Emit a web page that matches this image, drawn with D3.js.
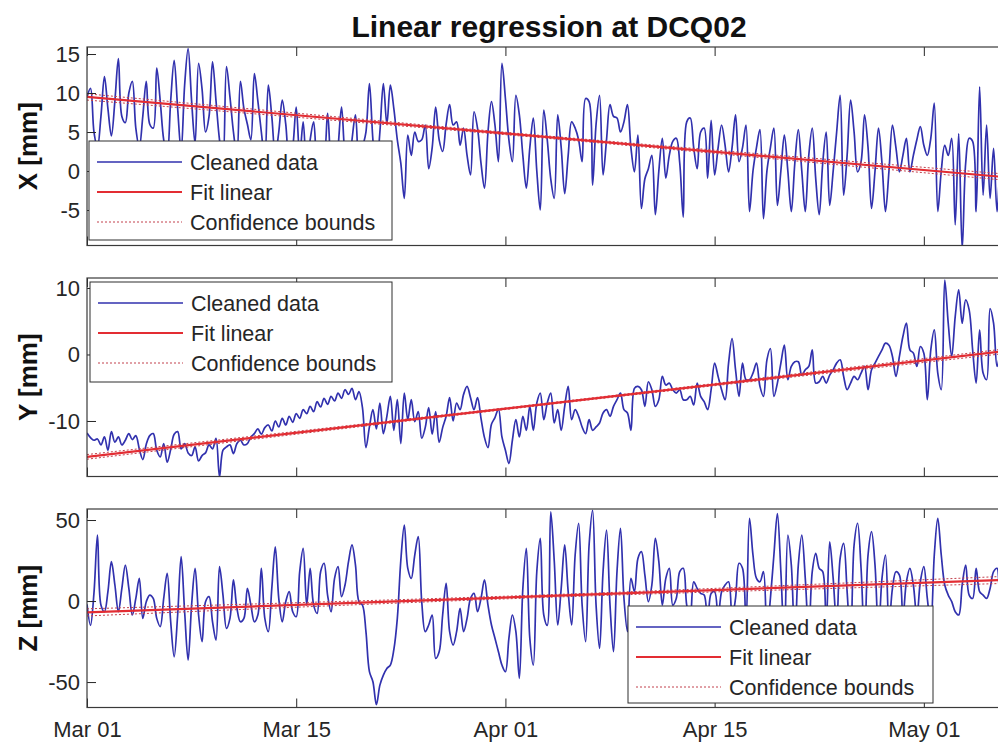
<!DOCTYPE html>
<html>
<head>
<meta charset="utf-8">
<script src="https://cdn.jsdelivr.net/npm/d3@7"></script>
<style>
  html, body { margin: 0; padding: 0; background: #fff; }
  svg { display: block; font-family: "Liberation Sans", Arial, Helvetica, sans-serif; }
</style>
</head>
<body>
<svg id="chart" width="998" height="742"></svg>
<script>
// Station DCQ02 displacement, one sample every 6 hours (time in days from Mar 01)
const sampleStep = 0.25;

// Date ticks of the shared time axis
const tickDays = [0, 15, 30, 45, 60];
const tickLabels = ["Mar 01", "Mar 15", "Apr 01", "Apr 15", "May 01"];

// Value ticks of each component
const ticksX = [-5, 0, 5, 10, 15];
const ticksY = [-10, 0, 10];
const ticksZ = [-50, 0, 50];

const legendLabels = ["Cleaned data", "Fit linear", "Confidence bounds"];

// Cleaned displacement series [mm]
const seriesX = [
  9.5, 10.6, 5, 3,   7, 12.1, 8, 4.5,   9, 14.4, 7, 6.2,   10, 11.5, 5.5, 3,
  7, 11.5, 6, 5.5,   13.2, 9, 4, 2,   9, 14.2, 8, 2.5,   11, 15.7, 9, 3.5,
  13.8, 10.5, 5, 7,   14.0, 9, 4, 1,   13.4, 9.5, 5, 2,   11.5, 8, 6, 4,
  12.5, 9, 5, 1.5,   11.0, 7, 2, 5,   9.1, 6, 1, 3,   8.2, 2, 6.3, 0,
  4, 6.3, 1, 3,   2, 7.4, 1, -1,   3, 8.2, 2, 0,   4, 7.2, 1, 3,
  5, 11.2, 4, 0,   5, 11.2, 6, 11,   8, 4, 1, -3.5,   4.6, 2, 5, 3.8,
  4, 5.9, 0.3, 3,   8.2, 4, 2.5, 6,   8.5, 5.9, 6.3, 3.3,   5.5, 2, -0.5, 7.6,
  5.5, 1, -2.2, 5,   8.9, 5.9, 1.2, 13.8,   9.3, 4, 1.2, 9.7,   7.2, 2, -2.2, 3,
  6.8, 0, -5, 7.8,   4, -1, -3.5, 7.2,   3, -2.9, 2, 6.3,   5.5, 4, 1.2, 9.3,
  8.9, -1.8, 6, 9.7,   -0.5, 4, 8.5, 7,   6.8, 5, 6.3, 8.5,   3, -0.1, 4.6, -4.8,
  -1, 0.3, 2, -5.6,   0, 4.2, -0.9, 2,   3.8, 4.2, 1, -5.9,   6.3, 6.8, 3, 0.3,
  5, 5.5, -0.9, 6.5,   -0.5, 3, 5.9, 3.3,   -0.1, 3, 7.2, 1.2,   3, 5.9, -5.2, 0,
  3, 5.3, -6.1, 0,   3, 5.5, -4.4, 0,   4.6, 0, -5.2, 1,   5.3, 0, -5.2, 2,
  5.5, -1, -5.6, 1,   5.0, -4.4, 0, 5,   9.7, -3.1, 2, 9.1,   5, -0.1, 1.2, 7.2,
  3, -4.8, 0, 5.5,   1, -5.2, 0, 5.9,   3, -0.1, 2, 4.2,   -0.1, 2, 4, 5.7,
  3.3, 2, 4.2, 8.7,   -5.2, 0, 3.3, 2,   4.2, -6.9, 4.8, -10,   1, 4.2, 3.8, -5.2,
  10.8, -3.1, 5.9, -3.5,   2.9, -5.2, 1, 3,   2, 0, -2, 1
];

const seriesY = [
  -11.8, -12.5, -12.9, -12.7,   -13.6, -12.4, -14.4, -11.6,   -13.2, -12.4, -13.6, -12.9,
  -11.9, -12.8, -12.2, -14.2,   -15.8, -13.5, -12.2, -11.9,   -14.4, -15.4, -13.4, -16.2,
  -14.3, -12.0, -11.6, -14.2,   -13.4, -14.8, -15.2, -13.9,   -16.0, -15.2, -14.8, -13.6,
  -14.2, -12.6, -18.4, -14.4,   -13.9, -13.6, -14.9, -13.4,   -12.9, -13.6, -13.4, -12.4,
  -11.9, -11.2, -12.0, -11.0,   -10.6, -11.5, -10.0, -10.9,   -9.6, -10.6, -9.3, -10.2,
  -8.9, -9.6, -8.3, -8.9,   -7.8, -8.6, -7.1, -7.9,   -6.6, -7.5, -6.3, -7.0,
  -5.8, -6.6, -5.3, -6.0,   -5.1, -6.8, -5.6, -8.0,   -14.0, -10.9, -8.3, -11.2,
  -7.3, -11.9, -9.3, -6.3,   -11.4, -6.8, -13.4, -5.8,   -9.8, -6.8, -10.1, -8.6,
  -12.6, -11.0, -8.0, -12.0,   -8.6, -13.2, -11.0, -9.3,   -6.5, -10.0, -7.3, -8.3,
  -6.0, -4.8, -6.5, -8.3,   -6.5, -9.6, -12.5, -14.0,   -10.5, -9.5, -8.2, -12.4,
  -14.4, -16.4, -12.9, -9.8,   -12.4, -9.3, -11.4, -7.8,   -11.4, -7.3, -5.8, -9.8,
  -7.3, -5.8, -10.3, -8.3,   -11.4, -7.8, -4.8, -9.8,   -8.3, -9.3, -10.9, -11.9,
  -9.8, -11.4, -10.9, -10.3,   -8.8, -8.3, -9.3, -7.8,   -6.8, -5.8, -8.3, -8.8,
  -11.4, -5.1, -4.8, -5.3,   -7.8, -4.1, -5.3, -7.8,   -6.8, -3.3, -4.6, -4.3,
  -5.3, -5.8, -5.3, -6.8,   -6.8, -6.3, -7.6, -4.3,   -6.3, -7.1, -8.3, -5.3,
  -1.3, -3.3, -5.3, -6.8,   -1.3, 2.4, -2.3, -6.3,   -1.3, -3.8, -3.8, -2.8,
  -1.3, -4.8, -6.3, -0.8,   0.9, -6.3, -4.3, -1.3,   1.4, -3.8, -1.8, -1.1,
  -1.1, -3.1, -2.3, -1.8,   0.7, -4.3, -4.1, -3.3,   -4.3, -3.1, -2.3, -1.3,
  -0.8, -3.3, -5.3, -4.3,   -3.3, -3.8, -2.8, -1.8,   -5.3, -2.3, -1.3, -0.3,
  0.7, 1.7, 1.4, -0.3,   -3.3, -0.3, 2.7, 4.7,   0.7, 0.2, -1.8, 1.2,
  0.2, -6.8, 0.7, 3.7,   -2.8, -5.3, 11.2, 4.7,   -0.3, 5.7, 9.7, 4.7,
  8.2, 6.7, 0.7, -4.3,   3.7, -2.8, -3.8, 6.9,   4.7, -1.8, 0.5, 2,
  3, 1, 2, 1
];

const seriesZ = [
  -2, -15, 5, 40.7,   -2.5, -6.6, 5.8, 24.3,   9.9, -6.6, 7.8, 22.2,   7.8, -8.6, 1.6, 14,
  -10.7, -0.4, 3.7, 1.6,   -10.7, -15.8, 1.6, 17.1,   -12.8, -34.4, -8.6, 27.4,   -6.6, -36.4, -2.5, 20.2,
  -8.6, -25.1, -0.4, 2.7,   -12.8, -24.1, 21.2, 3.7,   -16.9, -10.7, 13, -4.5,   -12.8, -10.7, 7.8, -2.5,
  -12.8, -8.6, 20.2, -10.7,   -18.9, 7.8, 33.5, 1.6,   -12.8, -0.4, 5.8, -6.6,   -9.7, 18.1, 32.5, -2.5,
  20.2, -2.5, -7.6, 18.1,   23.3, 3.7, -6.6, 14,   21.2, 2.7, 9.9, 24.3,   34.6, 22.2, -0.4, -2.5,
  -18.9, -43.6, -49.8, -64,   -51.9, -45.7, -41.6, -39.5,   -30, -10.7, 25, 46.9,   20.2, 14, 28.4, 39.7,
  -0.4, -18.9, -14.8, -8.6,   -35.4, -31.3, -8.6, 10.9,   -18.9, -27.2, -18.9, -4.5,   -18.9, -10.7, 1.6, 4.7,
  -6.6, 1.6, 13, -2.5,   -14.8, -23, -31.3, -39.5,   -43.6, -23, -8.6, -18.9,   -47.7, 7.8, 32.5, -23,
  -39.5, 18.1, 38.7, -8.6,   -15, 55, 25, -14.8,   7.8, 34.6, 5.8, -14.8,   28.4, 48, -2.5, -25.1,
  34.6, 56, -2.5, -29.2,   18.1, 43.8, -2.5, -31.3,   18.1, 44.9, 1.6, -18.9,   14, 5.8, 26.3, 30.5,
  16, -0.4, 9.9, 38.7,   24.3, -2.5, 14, 20.2,   -2.5, 1.6, 18.1, 20.2,   -2.5, -10, 11.9, 7.8,
  4.7, 3.7, -15, 4.7,   5.8, -10, 5.8, 9.9,   11.9, -10, 1.6, 23.3,   20.2, -15, 51, 28.4,
  14, 11.9, 18.1, -20,   1.6, 28.4, 54, 18.1,   -25, 40.7, 22.2, -25,   22.2, 40.7, 14, -20,
  18.1, 29.4, 20.2, 18.1,   -15, 36.6, 14, -15,   26.3, 35.6, 5.8, -25,   34.6, 48, 20.2, -25,
  28.4, 42.8, 22.2, -20,   14, 28.4, -15, 7.8,   18.1, 16, -10, 11.9,   20.2, 9.9, -10, 11.9,
  21.2, 1.6, -15, 28.4,   51, 28.4, 9.9, 3.7,   -0.4, -6.6, -8.6, 9.9,   22.2, 3.7, 1.6, 20.2,
  5.8, 3.7, 1.6, 7.8,   18.1, 20.2, 3.7, 5,   8, 3, 5, 4
];

// Linear fits: value at the first and last day of the axis [mm]
const fitDays = [0, 66.25];
const fitX = [9.5, -0.85];
const fitY = [-15.4, 0.6];
const fitZ = [-7, 13.2];

// Half-width of the 95% confidence bounds around each fit [mm]
const boundDays = [0, 16.5, 33, 49.5, 66.25];
const boundX = [0.4, 0.25, 0.15, 0.25, 0.4];
const boundY = [0.35, 0.2, 0.12, 0.2, 0.35];
const boundZ = [2.2, 1.3, 0.8, 1.3, 2.2];

// ---------------------------------------------------------------------------
const svg = d3.select("#chart");
const textColor = "#262626";
const dataColor = "#3131ae";
const fitColor = "#e32d33";
const boundColor = "#c2404c";

const plotLeft = 87, plotRight = 1011;
const x = d3.scaleLinear().domain([0, 66.25]).range([plotLeft, plotRight]);

const panels = [
  { id: "x", label: "X [mm]", top: 47, bottom: 245.5, domain: [-9.55, 15.9], ticks: ticksX,
    values: seriesX, fit: fitX, bound: boundX, legend: { x: 89, y: 141, w: 303, h: 99 } },
  { id: "y", label: "Y [mm]", top: 278, bottom: 476.5, domain: [-18.35, 11.5], ticks: ticksY,
    values: seriesY, fit: fitY, bound: boundY, legend: { x: 90, y: 282, w: 302, h: 100 } },
  { id: "z", label: "Z [mm]", top: 509, bottom: 707.5, domain: [-65.7, 56.8], ticks: ticksZ,
    values: seriesZ, fit: fitZ, bound: boundZ, legend: { x: 628, y: 606, w: 305, h: 97 } }
];

svg.append("text")
  .attr("x", (plotLeft + plotRight) / 2)
  .attr("y", 36.5)
  .attr("text-anchor", "middle")
  .attr("font-size", 30)
  .attr("font-weight", "bold")
  .attr("fill", "#111")
  .text("Linear regression at DCQ02");

panels.forEach((p, pi) => {
  const y = d3.scaleLinear().domain(p.domain).range([p.bottom, p.top]);
  const g = svg.append("g");

  const clipId = "clip-" + p.id;
  svg.append("clipPath").attr("id", clipId)
    .append("rect")
    .attr("x", plotLeft).attr("y", p.top)
    .attr("width", plotRight - plotLeft).attr("height", p.bottom - p.top);

  // background of the axes
  g.append("rect")
    .attr("x", plotLeft).attr("y", p.top)
    .attr("width", plotRight - plotLeft).attr("height", p.bottom - p.top)
    .attr("fill", "#fff");

  const plot = g.append("g").attr("clip-path", `url(#${clipId})`);

  // cleaned data, drawn as a smooth trace through the samples
  const dataLine = d3.line()
    .curve(d3.curveCatmullRom.alpha(0.5))
    .x((d, i) => x(i * sampleStep))
    .y(d => y(d));
  plot.append("path")
    .datum(p.values)
    .attr("d", dataLine)
    .attr("fill", "none")
    .attr("stroke", dataColor)
    .attr("stroke-width", 1.7)
    .attr("stroke-linejoin", "round");

  // fit line and confidence bounds
  const fitAt = d3.scaleLinear().domain(fitDays).range(p.fit);
  const boundLine = d3.line().curve(d3.curveNatural)
    .x(d => x(d[0])).y(d => y(d[1]));
  [1, -1].forEach(sign => {
    plot.append("path")
      .datum(boundDays.map((t, i) => [t, fitAt(t) + sign * p.bound[i]]))
      .attr("d", boundLine)
      .attr("fill", "none")
      .attr("stroke", boundColor)
      .attr("stroke-width", 1)
      .attr("stroke-dasharray", "2,2");
  });
  plot.append("path")
    .datum(fitDays.map((t, i) => [t, p.fit[i]]))
    .attr("d", d3.line().x(d => x(d[0])).y(d => y(d[1])))
    .attr("fill", "none")
    .attr("stroke", fitColor)
    .attr("stroke-width", 2.2);

  // axes: inward ticks on every side of the box
  const yAxis = g.append("g")
    .attr("transform", `translate(${plotLeft},0)`)
    .call(d3.axisLeft(y).tickValues(p.ticks).tickSize(-9).tickPadding(7).tickFormat(d => String(d)));
  const yAxisRight = g.append("g")
    .attr("transform", `translate(${plotRight},0)`)
    .call(d3.axisRight(y).tickValues(p.ticks).tickSize(-9).tickFormat(""));
  const xTop = g.append("g")
    .attr("transform", `translate(0,${p.top})`)
    .call(d3.axisTop(x).tickValues(tickDays).tickSize(-9).tickFormat(""));
  const isLast = pi === panels.length - 1;
  const xBottom = g.append("g")
    .attr("transform", `translate(0,${p.bottom})`)
    .call(d3.axisBottom(x).tickValues(tickDays).tickSize(-9).tickPadding(14)
      .tickFormat((d, i) => isLast ? tickLabels[i] : ""));

  [yAxis, yAxisRight, xTop, xBottom].forEach(a => {
    a.select(".domain").remove();
    a.selectAll(".tick line").attr("stroke", textColor).attr("stroke-width", 1);
    a.selectAll(".tick text")
      .attr("fill", textColor)
      .attr("font-size", 22)
      .attr("font-family", '"Liberation Sans", Arial, sans-serif');
  });

  // axes box
  g.append("rect")
    .attr("x", plotLeft).attr("y", p.top)
    .attr("width", plotRight - plotLeft).attr("height", p.bottom - p.top)
    .attr("fill", "none")
    .attr("stroke", "#3a3a3a")
    .attr("stroke-width", 1.2);

  // y label
  g.append("text")
    .attr("transform", `translate(37,${(p.top + p.bottom) / 2}) rotate(-90)`)
    .attr("text-anchor", "middle")
    .attr("font-size", 26)
    .attr("font-weight", "bold")
    .attr("fill", "#111")
    .text(p.label);

  // legend
  const L = p.legend;
  const lg = g.append("g").attr("transform", `translate(${L.x},${L.y})`);
  lg.append("rect")
    .attr("width", L.w).attr("height", L.h)
    .attr("fill", "#fff")
    .attr("stroke", "#2e2e2e")
    .attr("stroke-width", 1);
  const styles = [
    { stroke: dataColor, width: 1.5, dash: null },
    { stroke: fitColor, width: 2, dash: null },
    { stroke: boundColor, width: 1, dash: "2,2" }
  ];
  legendLabels.forEach((label, i) => {
    const cy = 21 + i * 30;
    lg.append("line")
      .attr("x1", 8).attr("x2", 93)
      .attr("y1", cy).attr("y2", cy)
      .attr("stroke", styles[i].stroke)
      .attr("stroke-width", styles[i].width)
      .attr("stroke-dasharray", styles[i].dash);
    lg.append("text")
      .attr("x", 101).attr("y", cy)
      .attr("dy", "0.35em")
      .attr("font-size", 21.5)
      .attr("fill", textColor)
      .text(label);
  });
});
</script>
</body>
</html>
